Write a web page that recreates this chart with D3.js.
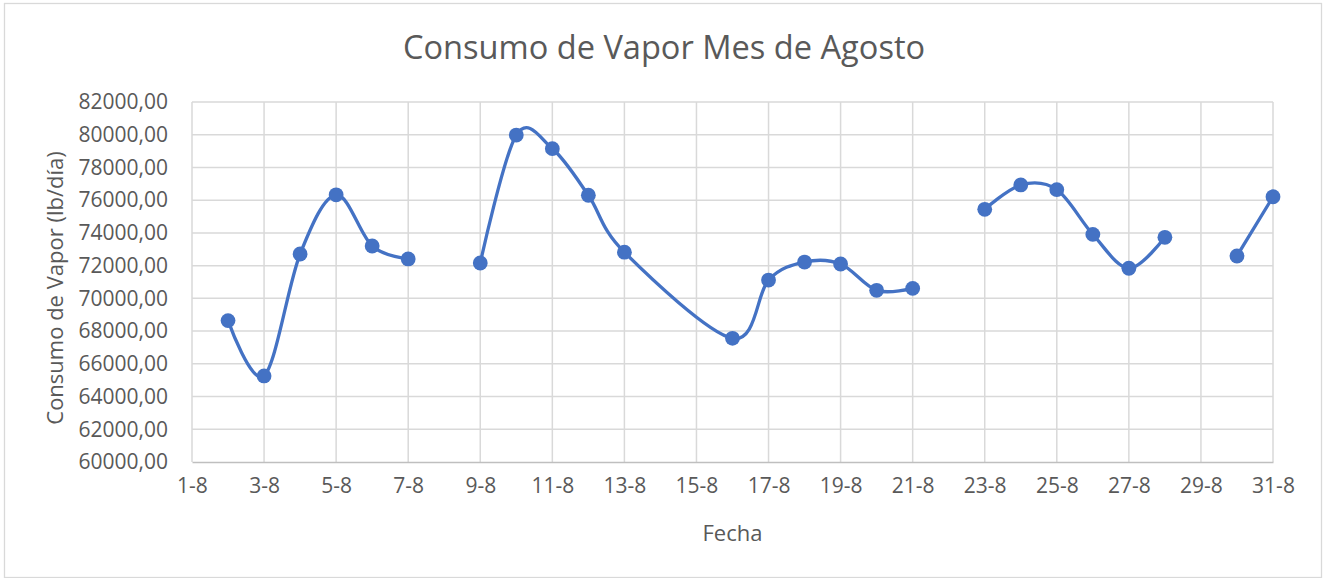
<!DOCTYPE html>
<html>
<head>
<meta charset="utf-8">
<script src="https://cdn.jsdelivr.net/npm/d3@7"></script>
<style>
  html, body { margin: 0; padding: 0; background: #ffffff; }
  svg { display: block; }
  text { font-family: "Open Sans", "Noto Sans", sans-serif; fill: #595959; }
</style>
</head>
<body>
<svg id="chart" width="1325" height="578"></svg>
<script>
// ---- data ----
const chartTitle = "Consumo de Vapor Mes de Agosto";
const xTitle = "Fecha";
const yTitle = "Consumo de Vapor (lb/día)";
const days = [2, 3, 4, 5, 6, 7, 8, 9, 10, 11, 12, 13, 16, 17, 18, 19, 20, 21, 22, 23, 24, 25, 26, 27, 28, 29, 30, 31];
const values = [68640, 65260, 72710, 76330, 73200, 72410, null, 72160, 79980, 79150, 76300, 72820,
                67560, 71120, 72220, 72100, 70490, 70610, null, 75440, 76930, 76640, 73910, 71840, 73730, null, 72590, 76210];
const xTickDays = [1, 3, 5, 7, 9, 11, 13, 15, 17, 19, 21, 23, 25, 27, 29, 31];
const monthSuffix = "-8";
const yTicks = [60000, 62000, 64000, 66000, 68000, 70000, 72000, 74000, 76000, 78000, 80000, 82000];

const data = days.map((d, i) => ({ day: d, value: values[i] }));

// ---- layout ----
const svg = d3.select("#chart");
const W = 1325, H = 578;
const plot = { left: 192, right: 1273, top: 102, bottom: 462 };
const lineColor = "#4472C4";

svg.append("rect")
  .attr("x", 4.5).attr("y", 3.5)
  .attr("width", W - 8).attr("height", H - 4)
  .attr("fill", "#ffffff").attr("stroke", "#d9d9d9").attr("stroke-width", 1.3);

const x = d3.scaleLinear().domain([1, 31]).range([plot.left, plot.right]);
const y = d3.scaleLinear().domain([60000, 82000]).range([plot.bottom, plot.top]);

const loc = d3.formatLocale({ decimal: ",", thousands: "", grouping: [3], currency: ["", ""] });
const yFmt = loc.format(".2f");

// horizontal gridlines
svg.append("g")
  .selectAll("line").data(yTicks.filter(v => v !== 60000)).join("line")
  .attr("x1", plot.left).attr("x2", plot.right)
  .attr("y1", d => y(d)).attr("y2", d => y(d))
  .attr("stroke", "#d9d9d9").attr("stroke-width", 1.5);

// vertical gridlines
svg.append("g")
  .selectAll("line").data(xTickDays).join("line")
  .attr("x1", d => x(d)).attr("x2", d => x(d))
  .attr("y1", plot.top).attr("y2", plot.bottom)
  .attr("stroke", "#d9d9d9").attr("stroke-width", 1.5);

// y axis (labels only)
const yAxis = d3.axisLeft(y).tickValues(yTicks).tickFormat(yFmt).tickSize(0).tickPadding(24);
const gy = svg.append("g").attr("transform", `translate(${plot.left},0)`).call(yAxis);
gy.select(".domain").remove();
gy.selectAll("text").attr("font-size", 21).attr("fill", "#595959")
  .style("font-family", "'Open Sans', sans-serif");

// x axis
const xAxis = d3.axisBottom(x).tickValues(xTickDays).tickFormat(d => d + monthSuffix).tickSize(0).tickPadding(16);
const gx = svg.append("g").attr("transform", `translate(0,${plot.bottom})`).call(xAxis);
gx.select(".domain").attr("stroke", "#bfbfbf").attr("stroke-width", 1.5);
gx.selectAll("text").attr("font-size", 21).attr("fill", "#595959")
  .style("font-family", "'Open Sans', sans-serif");

// line
const line = d3.line()
  .defined(d => d.value !== null)
  .x(d => x(d.day)).y(d => y(d.value))
  .curve(d3.curveCardinal.tension(0));

svg.append("path").datum(data)
  .attr("d", line)
  .attr("fill", "none").attr("stroke", lineColor)
  .attr("stroke-width", 3.3).attr("stroke-linejoin", "round").attr("stroke-linecap", "round");

// markers
svg.append("g")
  .selectAll("circle").data(data.filter(d => d.value !== null)).join("circle")
  .attr("cx", d => x(d.day)).attr("cy", d => y(d.value))
  .attr("r", 7.4).attr("fill", lineColor);

// titles
svg.append("text")
  .attr("x", 664).attr("y", 59)
  .attr("text-anchor", "middle").attr("font-size", 32.6)
  .text(chartTitle);

svg.append("text")
  .attr("x", (plot.left + plot.right) / 2).attr("y", 541)
  .attr("text-anchor", "middle").attr("font-size", 22)
  .text(xTitle);

svg.append("text")
  .attr("transform", `translate(63,${(plot.top + plot.bottom) / 2 + 6}) rotate(-90)`)
  .attr("text-anchor", "middle").attr("font-size", 22)
  .text(yTitle);
</script>
</body>
</html>
